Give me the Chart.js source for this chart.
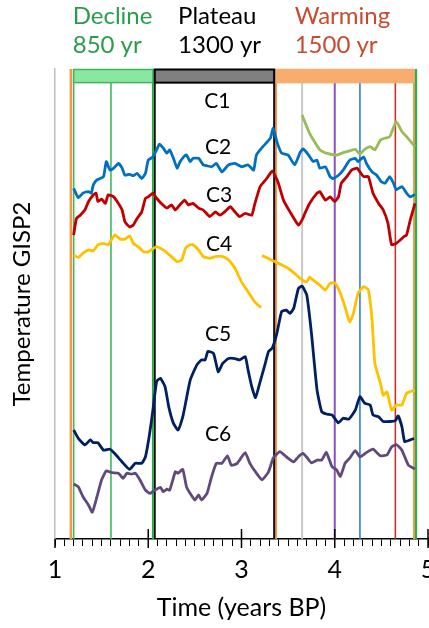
<!DOCTYPE html>
<html><head><meta charset="utf-8">
<script src="https://cdn.jsdelivr.net/npm/chart.js@4/dist/chart.umd.min.js"></script>
<style>html,body{margin:0;padding:0;background:#fff;overflow:hidden}canvas{display:block}</style>
</head><body>
<canvas id="c" width="429" height="628"></canvas>
<script>
// ---------- data (x: thousand years BP, y: relative temperature index) ----------
const c1Years = [3.65,3.73,3.84,3.91,4.02,4.09,4.16,4.22,4.27,4.32,4.38,4.43,4.49,4.54,4.59,4.66,4.72,4.77,4.86];
const c1Temp  = [90.2,86.3,82.8,82.1,81.7,82.2,82.6,82.9,81.9,82.9,83.5,82.8,84.9,85.3,85.6,88.8,86.7,85.6,83.5];

const c2Years = [1.20,1.25,1.30,1.36,1.39,1.41,1.45,1.52,1.55,1.59,1.63,1.68,1.72,1.75,1.80,1.84,1.88,1.93,1.97,2.00,2.05,2.09,2.12,2.16,2.20,2.23,2.27,2.31,2.34,2.38,2.41,2.45,2.48,2.54,2.59,2.63,2.68,2.73,2.79,2.86,2.93,3.00,3.07,3.13,3.16,3.23,3.31,3.34,3.38,3.43,3.50,3.57,3.63,3.66,3.72,3.77,3.81,3.84,3.90,3.95,3.98,4.04,4.09,4.16,4.22,4.25,4.31,4.34,4.40,4.45,4.50,4.54,4.59,4.63,4.66,4.72,4.77,4.81,4.86];
const c2Temp  = [74.6,72.6,73.6,73.9,73.6,75.3,76.4,77.1,80.3,78.5,78.9,79.9,78.9,77.4,77.6,77.3,77.8,76.7,77.8,80.6,81.3,82.8,84.0,83.2,82.1,82.8,81.0,78.9,80.2,81.3,81.7,80.3,81.0,81.0,79.6,79.4,79.2,79.9,78.1,79.6,79.9,79.2,79.6,78.5,81.7,83.5,85.3,87.4,84.5,82.1,81.7,79.6,82.3,83.0,81.7,80.3,80.6,78.9,79.2,77.1,76.7,77.4,78.5,80.6,81.0,80.3,81.3,79.9,78.1,77.4,76.0,75.7,77.1,75.7,74.3,75.0,73.6,72.8,73.3];

const c3Years = [1.20,1.23,1.27,1.32,1.36,1.41,1.44,1.46,1.50,1.54,1.57,1.63,1.68,1.72,1.75,1.80,1.84,1.88,1.93,1.97,2.00,2.05,2.09,2.14,2.20,2.25,2.29,2.34,2.39,2.43,2.48,2.54,2.59,2.66,2.72,2.77,2.82,2.88,2.93,2.98,3.04,3.11,3.14,3.20,3.27,3.33,3.39,3.45,3.52,3.61,3.65,3.68,3.73,3.81,3.84,3.90,3.95,4.00,4.04,4.07,4.13,4.18,4.24,4.27,4.31,4.36,4.41,4.47,4.52,4.57,4.61,4.66,4.74,4.77,4.81,4.86];
const c3Temp  = [64.7,68.2,68.9,70.0,71.8,73.2,73.6,71.8,72.3,71.4,73.2,72.8,71.4,70.0,67.5,66.4,66.8,68.2,69.6,72.5,72.8,73.6,72.5,71.4,70.4,71.1,70.0,71.1,72.1,71.1,71.4,70.4,70.0,68.6,69.6,68.9,69.6,70.7,69.6,68.6,69.3,68.9,71.1,75.0,76.7,78.3,76.0,72.1,69.6,66.8,67.9,69.3,71.4,73.6,73.9,72.1,72.8,71.8,72.8,75.7,77.1,78.5,78.9,78.1,77.1,77.1,73.6,71.4,70.0,67.2,62.6,62.9,64.3,64.7,67.9,71.4];

const c4EarlyYears = [1.20,1.25,1.30,1.36,1.41,1.46,1.52,1.57,1.64,1.70,1.75,1.80,1.84,1.89,1.95,2.00,2.09,2.16,2.23,2.31,2.36,2.40,2.45,2.48,2.54,2.59,2.66,2.72,2.80,2.86,2.93,3.00,3.07,3.14,3.21];
const c4EarlyTemp  = [60.4,59.9,60.8,61.5,61.3,62.6,62.9,62.6,64.7,63.8,63.8,64.5,62.9,62.2,61.1,61.1,62.2,61.5,60.4,59.0,59.4,61.9,62.6,62.6,61.5,60.1,59.7,60.1,60.1,59.4,57.6,54.7,52.6,50.5,49.2];
const c4LateYears  = [3.22,3.36,3.50,3.61,3.65,3.70,3.73,3.77,3.84,3.90,3.95,4.00,4.06,4.11,4.16,4.20,4.25,4.31,4.36,4.40,4.43,4.49,4.52,4.56,4.61,4.66,4.72,4.77,4.86];
const c4LateTemp   = [60.3,59.0,57.6,55.8,55.1,54.7,55.7,55.1,54.0,53.0,54.4,54.5,52.3,49.4,46.2,48.0,52.3,53.7,53.0,46.6,37.4,33.1,30.6,31.3,27.4,28.5,28.5,31.0,31.7];

const c5Years = [1.20,1.25,1.32,1.38,1.41,1.46,1.52,1.59,1.64,1.72,1.80,1.86,1.93,1.97,2.01,2.05,2.09,2.13,2.18,2.22,2.27,2.32,2.37,2.40,2.45,2.52,2.57,2.61,2.64,2.70,2.75,2.80,2.86,2.93,2.98,3.04,3.07,3.11,3.15,3.20,3.25,3.29,3.33,3.38,3.43,3.48,3.52,3.56,3.61,3.65,3.70,3.75,3.81,3.86,3.91,3.97,4.04,4.09,4.15,4.22,4.27,4.32,4.38,4.41,4.47,4.52,4.59,4.65,4.68,4.72,4.75,4.81,4.85];
const c5Temp  = [23.2,21.4,20.0,21.1,20.5,20.5,18.9,19.1,18.2,16.4,14.8,16.1,16.1,17.5,21.8,27.4,33.5,34.2,32.4,28.1,24.6,23.2,26.0,28.9,33.8,37.0,38.1,38.1,39.9,39.5,35.6,37.4,38.4,38.4,38.1,38.8,36.0,32.4,30.1,33.5,37.0,39.9,40.6,43.8,48.4,48.7,48.0,49.1,53.3,53.8,51.9,43.8,31.7,27.1,26.6,26.4,24.7,25.7,25.5,27.4,30.3,28.9,28.5,26.4,26.0,25.0,25.0,25.2,26.2,23.9,20.7,21.1,21.4];

const c6Years = [1.20,1.25,1.30,1.36,1.40,1.45,1.50,1.55,1.61,1.68,1.73,1.77,1.82,1.86,1.91,1.97,2.02,2.07,2.13,2.16,2.20,2.23,2.29,2.32,2.37,2.41,2.45,2.50,2.54,2.57,2.63,2.68,2.73,2.79,2.85,2.89,2.95,2.98,3.04,3.09,3.16,3.22,3.29,3.34,3.41,3.48,3.56,3.61,3.66,3.70,3.75,3.81,3.86,3.91,3.97,4.02,4.06,4.11,4.16,4.22,4.27,4.34,4.41,4.49,4.56,4.61,4.66,4.72,4.79,4.86];
const c6Temp  = [11.7,11.1,9.0,7.2,5.7,9.0,12.6,14.5,14.1,14.0,12.9,14.0,13.8,14.0,12.6,10.4,9.7,10.4,11.0,10.1,10.6,10.4,14.3,14.0,14.8,11.1,9.7,8.3,9.4,8.3,9.7,13.3,16.1,16.1,17.7,15.7,16.0,16.8,18.4,16.1,14.0,12.6,14.3,17.2,18.6,17.5,16.4,17.5,18.2,17.4,16.2,16.8,16.8,18.4,15.4,14.7,13.3,16.1,17.2,18.8,17.5,18.4,19.1,17.7,17.9,19.6,20.1,18.9,15.7,14.9];

const curveNames   = ['C1','C2','C3','C4','C5','C6'];
const curveLabelX  = [2.74,2.75,2.76,2.76,2.75,2.75];
const curveLabelY  = [93.2,83.3,73.1,62.8,43.6,22.3];

const markerYears  = [1.17,1.20,1.60,2.05,2.07,3.35,3.37,3.65,4.00,4.27,4.65,4.85,4.87];

const phaseNames     = ['Decline','Plateau','Warming'];
const phaseDurations = ['850 yr','1300 yr','1500 yr'];
const phaseStart     = [1.20,2.07,3.37];
const phaseEnd       = [2.05,3.35,4.85];

const xTickValues = [1,2,3,4,5];

// ---------- styles ----------
const FONT = "Lato, 'Liberation Sans', sans-serif";
const curveColors = {C1:'#9bbb59',C2:'#0070c0',C3:'#c00000',C4:'#ffc000',C5:'#002060',C6:'#604a7b'};
const markerStyle = [
  ['#f79646',2.5],['#3cb85c',1.6],['#3cb85c',1.6],['#2ea84f',2],['#111111',2],
  ['#111111',2],['#f79646',2],['#c8c8c8',2],['#8b4fc0',2],['#2e80d4',1.6],
  ['#c8302a',1.6],['#f79646',2],['#1fb54a',2.5]
];
const phaseTextColor = ['#2a9d4a','#000000','#c94a2e'];
const phaseFill   = ['#8ae6a0','#808080','#f8ad6f'];
const phaseStroke = ['#3cb85c','#000000','#f8ad6f'];

const Y_MIN = 0, Y_MAX = 100, BAR_BOTTOM = 97.1;

const pts = (xs, ys) => xs.map((x, i) => ({x, y: ys[i]}));
const curveData = {
  C1: [pts(c1Years, c1Temp)],
  C2: [pts(c2Years, c2Temp)],
  C3: [pts(c3Years, c3Temp)],
  C4: [pts(c4EarlyYears, c4EarlyTemp), pts(c4LateYears, c4LateTemp)],
  C5: [pts(c5Years, c5Temp)],
  C6: [pts(c6Years, c6Temp)]
};

const datasets = [];
curveNames.forEach(n => curveData[n].forEach(d => datasets.push({
  label: n, data: d, borderColor: curveColors[n], borderWidth: 2.8,
  pointRadius: 0, tension: 0.15, fill: false
})));
markerYears.forEach((x, i) => datasets.push({
  label: 'marker', data: [{x, y: Y_MIN}, {x, y: Y_MAX}],
  borderColor: markerStyle[i][0], borderWidth: markerStyle[i][1], pointRadius: 0
}));

const overlay = {
  id: 'overlay',
  afterDatasetsDraw(chart) {
    const {ctx, scales: {x, y}} = chart;
    const top = y.getPixelForValue(Y_MAX) + 0.5, bot = y.getPixelForValue(BAR_BOTTOM);
    ctx.save();
    [0, 2, 1].forEach(i => {
      const l = x.getPixelForValue(phaseStart[i]), r = x.getPixelForValue(phaseEnd[i]);
      ctx.fillStyle = phaseFill[i];
      ctx.fillRect(l, top, r - l, bot - top);
      ctx.strokeStyle = phaseStroke[i];
      ctx.lineWidth = i === 1 ? 2 : 1.5;
      ctx.strokeRect(l, top, r - l, bot - top);
    });
    // curve labels
    ctx.fillStyle = '#000';
    ctx.font = "21px " + FONT;
    ctx.textAlign = 'center';
    ctx.textBaseline = 'middle';
    curveNames.forEach((n, i) => ctx.fillText(n, x.getPixelForValue(curveLabelX[i]), y.getPixelForValue(curveLabelY[i])));
    ctx.restore();
  },
  afterDraw(chart) {
    const {ctx, scales: {x, y}} = chart;
    ctx.save();
    // major ticks
    ctx.strokeStyle = '#000'; ctx.lineWidth = 1.5;
    xTickValues.forEach(v => {
      const px = x.getPixelForValue(v);
      ctx.beginPath();
      ctx.moveTo(px, v === 1 ? y.bottom : y.bottom - 10);
      ctx.lineTo(px, y.bottom + 9);
      ctx.stroke();
    });
    // phase labels
    ctx.font = "24px " + FONT;
    ctx.textAlign = 'left';
    ctx.textBaseline = 'alphabetic';
    const labelX = [1.19, 2.32, 3.57];
    phaseNames.forEach((n, i) => {
      ctx.fillStyle = phaseTextColor[i];
      const px = x.getPixelForValue(labelX[i]);
      ctx.fillText(n, px, 24);
      ctx.fillText(phaseDurations[i], px, 53);
    });
    ctx.restore();
  }
};

new Chart(document.getElementById('c'), {
  type: 'line',
  data: {datasets},
  options: {
    responsive: false, animation: false,
    layout: {padding: {top: 69, right: 1, bottom: 0, left: 0}},
    plugins: {legend: {display: false}, tooltip: {enabled: false}},
    elements: {point: {radius: 0}},
    scales: {
      x: {
        type: 'linear', min: 1, max: 5,
        grid: {display: true, drawOnChartArea: false, drawTicks: true, tickLength: 7, color: '#000', lineWidth: 1},
        border: {display: true, color: '#000', width: 1.5},
        ticks: {
          stepSize: 0.1, autoSkip: false, maxTicksLimit: 100, maxRotation: 0, minRotation: 0,
          padding: 9, color: '#000', font: {family: FONT, size: 25},
          callback: v => Math.abs(v - Math.round(v)) < 1e-6 && xTickValues.includes(Math.round(v)) ? String(Math.round(v)) : ''
        },
        title: {display: true, text: 'Time (years BP)', color: '#000', font: {family: FONT, size: 25}, padding: {top: 0, bottom: 5}},
        afterFit(s) { s.height = 89; s.paddingLeft = 0; s.paddingRight = 0; }
      },
      y: {
        min: Y_MIN, max: Y_MAX,
        grid: {display: false},
        border: {display: true, color: '#bfbfbf', width: 1.5},
        ticks: {display: false},
        title: {display: true, text: 'Temperature GISP2', color: '#000', font: {family: FONT, size: 24}, padding: {top: 8, bottom: 0}},
        afterFit(s) { s.width = 55; }
      }
    }
  },
  plugins: [overlay]
});
</script>
</body></html>
